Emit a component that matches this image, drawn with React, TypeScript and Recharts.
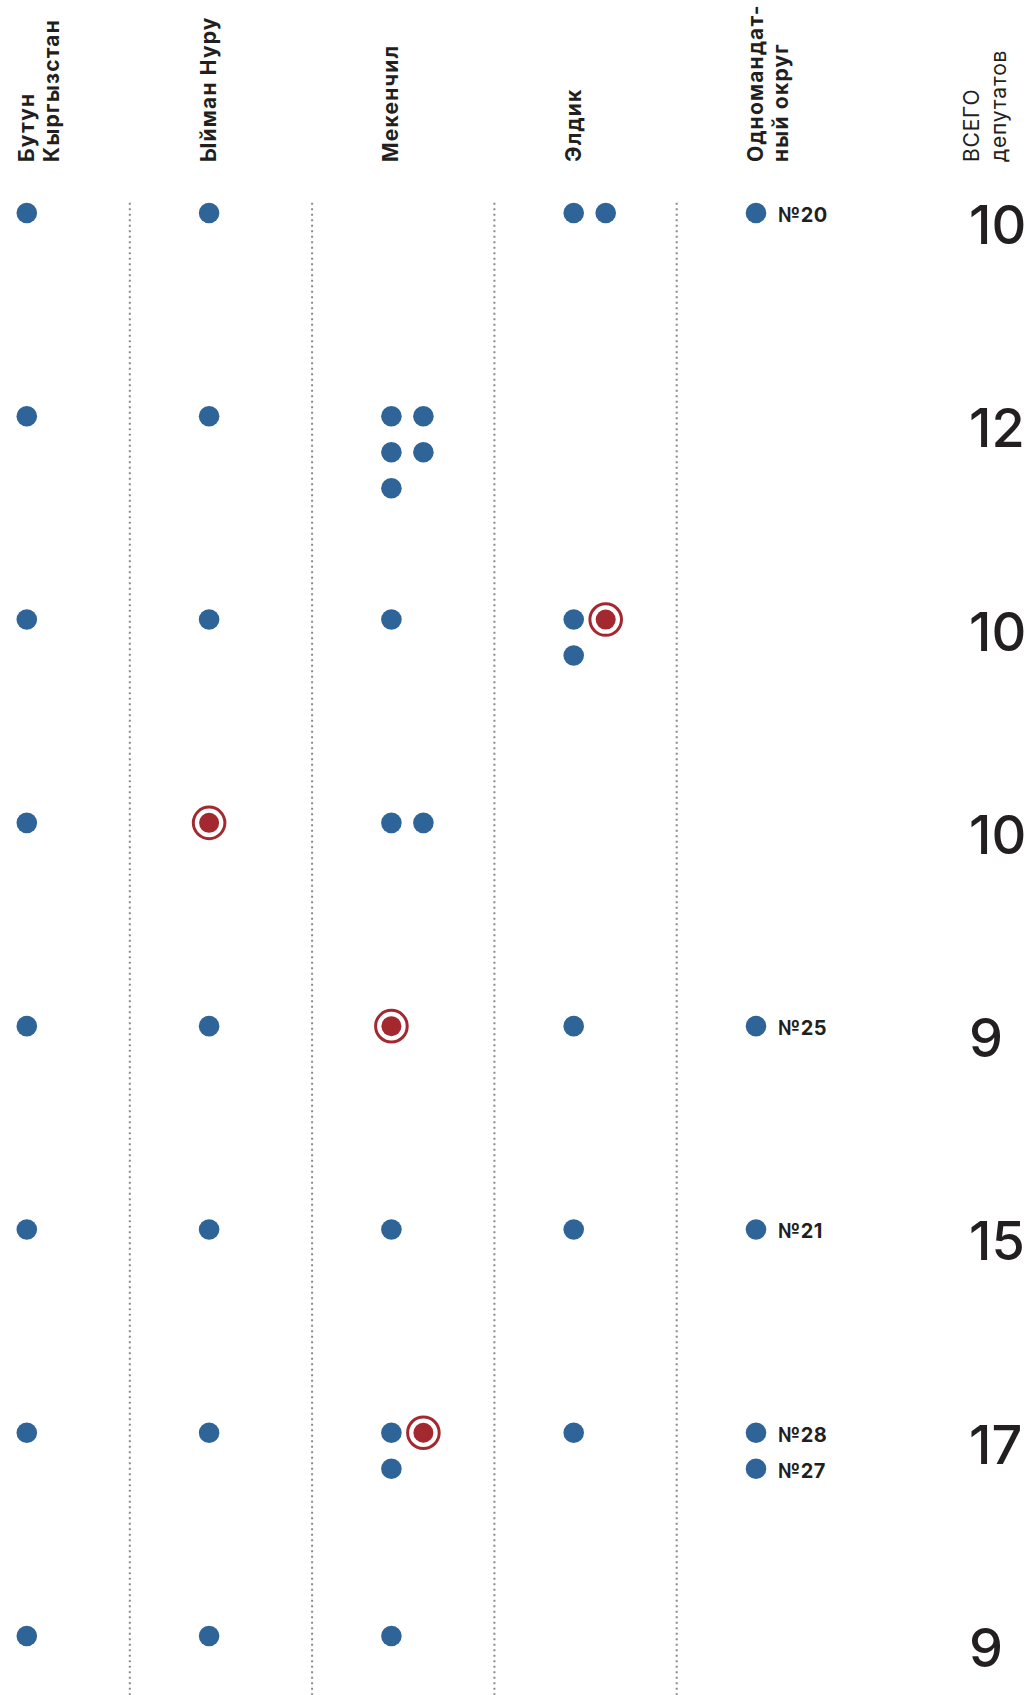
import {
  ScatterChart,
  Scatter,
  XAxis,
  YAxis,
  ReferenceLine,
} from 'recharts';

// column headers (rotated), one entry per party column
const HEADERS = [
  ['Бутун', 'Кыргызстан'],
  ['Ыйман Нуру'],
  ['Мекенчил'],
  ['Элдик'],
  ['Одномандат-', 'ный округ'],
];
const TOTAL_HEADER = ['ВСЕГО', 'депутатов'];

// seats per row for each party
const BUTUN = [1, 1, 1, 1, 1, 1, 1, 1];
const YIMAN = [1, 1, 1, 1, 1, 1, 1, 1];
const MEKENCHIL = [0, 5, 1, 2, 1, 1, 3, 1];
const ELDIK = [2, 0, 3, 0, 1, 1, 1, 0];

// highlighted (red) seats: party index, row, seat number within the cell
const RED_SEATS = [
  { party: 3, row: 2, seat: 1 },
  { party: 1, row: 3, seat: 0 },
  { party: 2, row: 4, seat: 0 },
  { party: 2, row: 6, seat: 1 },
];

// single-mandate districts per row
const DISTRICTS = [['№20'], [], [], [], ['№25'], ['№21'], ['№28', '№27'], []];

// total deputies per row
const TOTALS = [10, 12, 10, 10, 9, 15, 17, 9];

const BLUE = '#2f6498';
const RED = '#a3282f';
const INK = '#231f20';
const FONT = "Inter, 'Open Sans', sans-serif";

// layout of the grid
const SLOT_X = 0.1755;
const SLOT_Y = 0.177;
const SEP_OFFSET = 0.565;
const X_MIN = -0.147;
const X_MAX = 5.119;
const Y_MIN = -0.113;
const Y_MAX = 7.29;

const SEATS = [BUTUN, YIMAN, MEKENCHIL, ELDIK];

const seatPoints = SEATS.flatMap((counts, party) =>
  counts.flatMap((n, row) =>
    Array.from({ length: n }, (_, seat) => ({
      x: party + (seat % 2) * SLOT_X,
      y: row + Math.floor(seat / 2) * SLOT_Y,
      red: RED_SEATS.some((r) => r.party === party && r.row === row && r.seat === seat),
    }))
  )
);
const bluePoints = seatPoints.filter((p) => !p.red);
const redPoints = seatPoints.filter((p) => p.red);

const districtPoints = DISTRICTS.flatMap((list, row) =>
  list.map((label, j) => ({ x: 4, y: row + j * SLOT_Y, label }))
);

const BlueDot = (props: any) => (
  <circle cx={props.cx} cy={props.cy} r={10.3} fill={BLUE} />
);

const RedDot = (props: any) => (
  <g>
    <circle cx={props.cx} cy={props.cy} r={15.8} fill="none" stroke={RED} strokeWidth={3} />
    <circle cx={props.cx} cy={props.cy} r={10} fill={RED} />
  </g>
);

const DistrictDot = (props: any) => (
  <g>
    <circle cx={props.cx} cy={props.cy} r={10.3} fill={BLUE} />
    <text
      x={props.cx + 22}
      y={props.cy + 9}
      fontSize={20}
      fontWeight={700}
      letterSpacing={0.6}
      fill={INK}
      fontFamily={FONT}
    >
      {props.payload.label}
    </text>
  </g>
);

const HeaderTick = ({ x, y, payload }: any) => {
  const lines = HEADERS[payload.value] ?? [];
  return (
    <text
      transform={`translate(${x},${y}) rotate(-90)`}
      textAnchor="start"
      fontSize={21}
      fontWeight={700}
      letterSpacing={1.2}
      fill={INK}
      fontFamily={FONT}
    >
      {lines.map((line, i) => (
        <tspan key={i} x={0} dy={i === 0 ? 7 : 25}>
          {line}
        </tspan>
      ))}
    </text>
  );
};

const TotalTick = ({ x, y, payload }: any) => (
  <text x={x} y={y + 31} fontSize={54} fontWeight={500} fill={INK} fontFamily={FONT}>
    {TOTALS[payload.value]}
  </text>
);

const TotalHeader = ({ viewBox }: any) => (
  <text
    transform={`translate(${viewBox.x + 12},${viewBox.y - 28}) rotate(-90)`}
    textAnchor="start"
    fontSize={21}
    fontWeight={400}
    letterSpacing={0.8}
    fill={INK}
    fontFamily={FONT}
  >
    {TOTAL_HEADER.map((line, i) => (
      <tspan key={i} x={0} dy={i === 0 ? 7 : 27}>
        {line}
      </tspan>
    ))}
  </text>
);

export default function App() {
  return (
    <div style={{ width: 1029, height: 1695, background: '#fff' }}>
      <style>{'body{margin:0}'}</style>
      <ScatterChart width={1029} height={1695} margin={{ top: 0, right: 0, bottom: 0, left: 0 }}>
        <XAxis
          type="number"
          dataKey="x"
          orientation="top"
          height={190}
          domain={[X_MIN, X_MAX]}
          ticks={[0, 1, 2, 3, 4]}
          axisLine={false}
          tickLine={false}
          tickSize={0}
          tickMargin={28}
          tick={<HeaderTick />}
          interval={0}
        />
        <YAxis
          type="number"
          dataKey="y"
          orientation="right"
          width={69}
          reversed
          domain={[Y_MIN, Y_MAX]}
          ticks={[0, 1, 2, 3, 4, 5, 6, 7]}
          axisLine={false}
          tickLine={false}
          tickSize={0}
          tickMargin={9}
          tick={<TotalTick />}
          interval={0}
          label={{ content: <TotalHeader /> }}
        />
        {[0, 1, 2, 3].map((i) => (
          <ReferenceLine
            key={i}
            segment={[
              { x: i + SEP_OFFSET, y: -0.05 },
              { x: i + SEP_OFFSET, y: Y_MAX },
            ]}
            stroke="#8a8a8a"
            strokeWidth={2}
            strokeDasharray="2 3.5"
          />
        ))}
        <Scatter data={bluePoints} shape={BlueDot} isAnimationActive={false} />
        <Scatter data={redPoints} shape={RedDot} isAnimationActive={false} />
        <Scatter data={districtPoints} shape={DistrictDot} isAnimationActive={false} />
      </ScatterChart>
    </div>
  );
}
